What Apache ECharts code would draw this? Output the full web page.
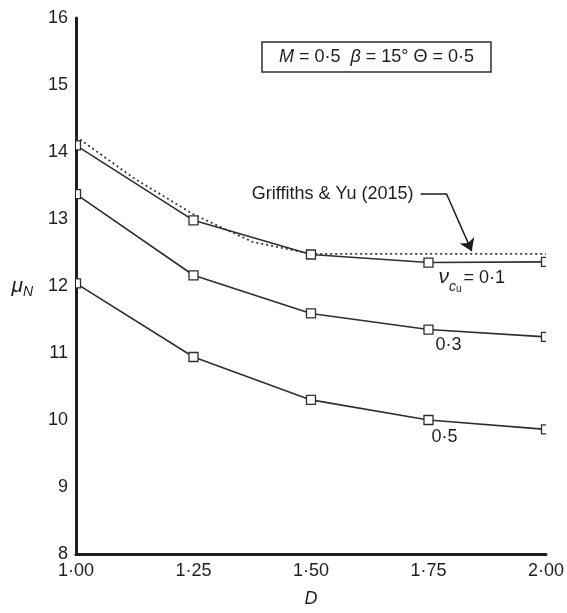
<!DOCTYPE html>
<html>
<head>
<meta charset="utf-8">
<script src="https://cdn.jsdelivr.net/npm/echarts@6/dist/echarts.min.js"></script>
<style>
  html, body { margin: 0; padding: 0; background: #fff; }
  #chart { width: 567px; height: 613px; }
</style>
</head>
<body>
<div id="chart"></div>
<script>
// Embedment depth ratio D
const depthRatio = [1.00, 1.25, 1.50, 1.75, 2.00];
// Bearing capacity factor mu_N for three values of v_cu
const muN_v01 = [14.10, 12.98, 12.47, 12.35, 12.36];
const muN_v03 = [13.37, 12.16, 11.59, 11.35, 11.24];
const muN_v05 = [12.04, 10.94, 10.30, 10.00, 9.86];
// Griffiths & Yu (2015) reference curve
const gyDepth = [1.00, 1.125, 1.25, 1.375, 1.50, 1.75, 2.00];
const gyMuN = [14.23, 13.60, 13.07, 12.66, 12.48, 12.48, 12.48];
// Tick labels
const xTickLabels = ['1·00', '1·25', '1·50', '1·75', '2·00'];
const yTickLabels = ['8', '9', '10', '11', '12', '13', '14', '15', '16'];
// Curve labels
const curveLabels = ['{nu|ν}{c|c}{u|u}{t|= 0·1}', '0·3', '0·5'];
const legendText = 'Griffiths & Yu (2015)';

const FONT = "'Liberation Sans', Arial, sans-serif";
const INK = '#1e1e1e';
const LINE = '#2e2e2e';

const pairs = (xs, ys) => xs.map((x, i) => [x, ys[i]]);
const solidSeries = [muN_v01, muN_v03, muN_v05];

const chart = echarts.init(document.getElementById('chart'), null, { renderer: 'canvas' });

const series = [];

// Reference curve (dotted)
series.push({
  type: 'line',
  data: pairs(gyDepth, gyMuN),
  symbol: 'none',
  lineStyle: { color: '#3a3a3a', width: 1.8, type: [2, 3] },
  z: 2,
  silent: true
});

// Computed curves (solid lines)
solidSeries.forEach(ys => {
  series.push({
    type: 'line',
    data: pairs(depthRatio, ys),
    symbol: 'none',
    lineStyle: { color: LINE, width: 1.6 },
    z: 3,
    silent: true
  });
});

// Open square markers, clipped to the plotting area
series.push({
  type: 'custom',
  clip: true,
  z: 4,
  silent: true,
  data: solidSeries.flatMap(ys => pairs(depthRatio, ys)),
  renderItem: (params, api) => {
    const p = api.coord([api.value(0), api.value(1)]);
    const s = 9;
    return {
      type: 'rect',
      shape: { x: p[0] - s / 2, y: p[1] - s / 2, width: s, height: s },
      style: { fill: '#fff', stroke: LINE, lineWidth: 1.3 }
    };
  }
});

// Curve labels anchored at D = 1·75
const labelOffsets = [[10, 15], [7, 15], [3, 17]];
series.push({
  type: 'scatter',
  symbol: 'circle',
  symbolSize: 0,
  z: 5,
  silent: true,
  itemStyle: { color: 'transparent', opacity: 1 },
  data: solidSeries.map((ys, i) => ({
    value: [depthRatio[3], ys[3]],
    label: {
      show: true,
      position: 'inside',
      align: 'left',
      verticalAlign: 'middle',
      offset: labelOffsets[i],
      formatter: curveLabels[i],
      color: INK,
      opacity: 1,
      textBorderWidth: 0,
      fontFamily: FONT,
      fontSize: 18,
      rich: {
        nu: { fontFamily: FONT, fontSize: 21, fontStyle: 'italic', color: INK, lineHeight: 34, verticalAlign: 'middle' },
        c: { fontFamily: FONT, fontSize: 14, fontStyle: 'italic', color: INK, lineHeight: 20, verticalAlign: 'bottom' },
        u: { fontFamily: FONT, fontSize: 10, color: INK, lineHeight: 8, verticalAlign: 'bottom', padding: [0, 2, 0, 0] },
        t: { fontFamily: FONT, fontSize: 18, color: INK, lineHeight: 34, verticalAlign: 'middle' }
      }
    }
  }))
});

// Leader line with arrow pointing at the reference curve
const leaderKnee = [1.788, 13.38];
const leaderStart = [1.733, 13.38];
const leaderTip = [1.842, 12.52];
series.push({
  type: 'lines',
  coordinateSystem: 'cartesian2d',
  z: 5,
  silent: true,
  lineStyle: { color: INK, width: 1.5, opacity: 1, curveness: 0 },
  data: [
    {
      coords: [leaderStart, leaderKnee],
      symbol: ['none', 'none'],
      label: {
        show: true,
        position: 'start',
        distance: 7,
        formatter: legendText,
        color: INK,
        fontFamily: FONT,
        fontSize: 18
      }
    },
    {
      coords: [leaderKnee, leaderTip],
      symbol: ['none', 'arrow'],
      symbolSize: [8, 12],
      label: { show: false }
    }
  ]
});

chart.setOption({
  animation: false,
  backgroundColor: '#fff',
  title: {
    text: '{i|M} = 0·5  {i|β} = 15° Θ = 0·5',
    left: 262,
    top: 42,
    padding: [6, 17, 6, 17],
    borderColor: LINE,
    borderWidth: 1.5,
    textStyle: {
      fontFamily: FONT,
      fontSize: 18,
      fontWeight: 'normal',
      color: INK,
      rich: {
        i: { fontFamily: FONT, fontSize: 18, fontStyle: 'italic', color: INK }
      }
    }
  },
  grid: { left: 76, right: 19, top: 18, bottom: 53, containLabel: false },
  xAxis: {
    type: 'value',
    min: 1,
    max: 2,
    interval: 0.25,
    name: 'D',
    nameLocation: 'middle',
    nameGap: 36,
    nameTextStyle: { fontFamily: FONT, fontSize: 18, fontStyle: 'italic', color: INK },
    axisLine: { show: true, lineStyle: { color: INK, width: 3 } },
    axisTick: { show: false },
    splitLine: { show: false },
    axisLabel: {
      margin: 8,
      fontFamily: FONT,
      fontSize: 18,
      color: INK,
      formatter: v => xTickLabels[Math.round((v - 1) / 0.25)]
    }
  },
  yAxis: {
    type: 'value',
    min: 8,
    max: 16,
    interval: 1,
    name: '{mu|μ}{n|N}',
    nameLocation: 'middle',
    nameRotate: 0,
    nameGap: 43,
    nameTextStyle: {
      rich: {
        mu: { fontFamily: FONT, fontSize: 21, fontStyle: 'italic', color: INK, lineHeight: 26, verticalAlign: 'middle' },
        n: { fontFamily: FONT, fontSize: 14, fontStyle: 'italic', color: INK, lineHeight: 14, verticalAlign: 'bottom' }
      }
    },
    axisLine: { show: true, lineStyle: { color: INK, width: 3 } },
    axisTick: { show: false },
    splitLine: { show: false },
    axisLabel: {
      margin: 8,
      fontFamily: FONT,
      fontSize: 18,
      color: INK,
      formatter: v => yTickLabels[Math.round(v - 8)]
    }
  },
  series: series
});
</script>
</body>
</html>
